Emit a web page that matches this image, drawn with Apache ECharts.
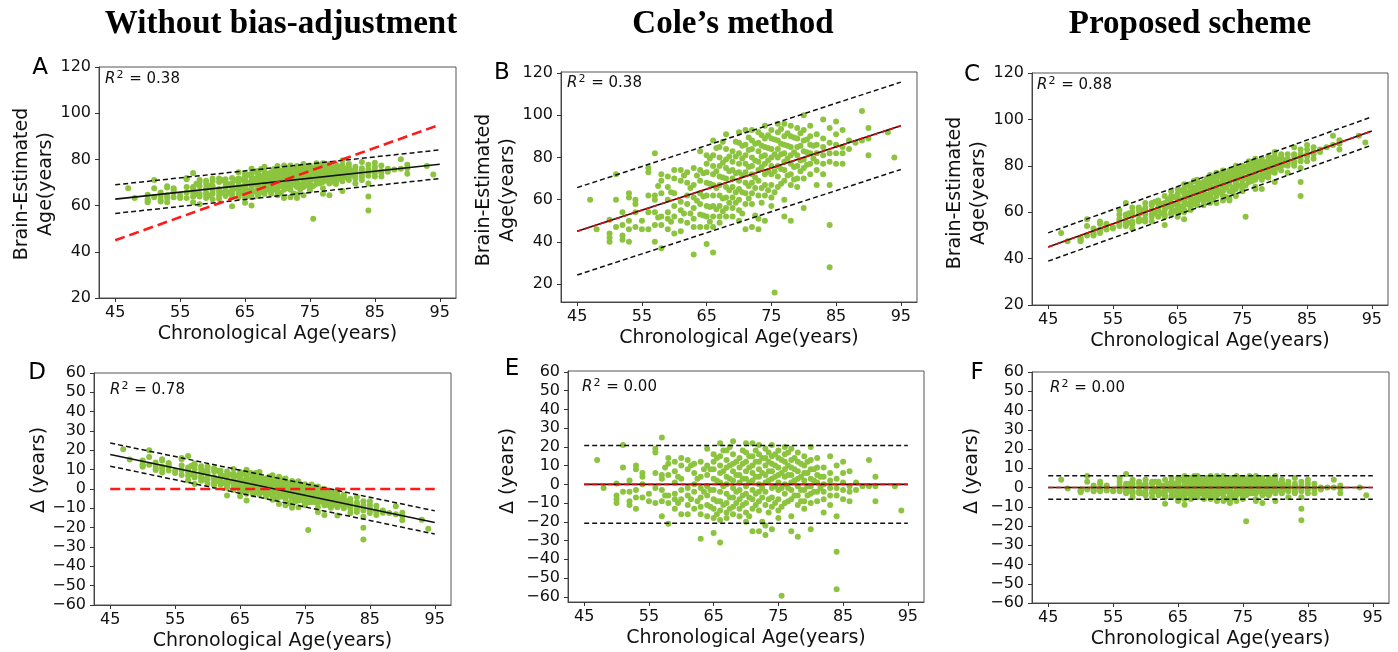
<!DOCTYPE html>
<html>
<head>
<meta charset="utf-8">
<script src="https://cdn.jsdelivr.net/npm/echarts@6/dist/echarts.min.js"></script>
<style>
html,body{margin:0;padding:0;background:#fff;}
#fig{width:1398px;height:652px;}
</style>
</head>
<body>
<div id="fig"></div>
<script>
// chronological age of each subject (years)
var chronAge = [
  47,
  48,
  50,50,50,50,
  51,51,51,
  52,52,52,52,
  53,53,53,53,53,
  54,54,54,54,
  55,55,
  56,56,56,56,56,
  57,57,57,57,57,57,
  58,58,58,58,58,58,
  59,59,59,59,59,59,
  60,60,60,60,60,60,
  61,61,61,61,61,61,
  62,62,62,62,62,
  63,63,63,63,63,63,63,
  64,64,64,64,64,64,64,
  65,65,65,65,65,65,65,65,65,
  66,66,66,66,66,66,66,66,66,66,
  67,67,67,67,67,67,67,67,67,
  68,68,68,68,68,68,68,68,68,
  69,69,69,69,69,69,69,69,
  70,70,70,70,70,70,70,70,70,70,
  71,71,71,71,71,71,71,71,71,
  72,72,72,72,72,72,72,72,72,72,
  73,73,73,73,73,73,73,73,73,
  74,74,74,74,74,74,74,74,74,
  75,75,75,75,75,75,75,75,75,
  75.5,
  76,76,76,76,76,76,76,76,
  77,77,77,77,77,77,77,77,77,
  78,78,78,78,78,78,78,78,
  79,79,79,79,79,79,79,
  80,80,80,80,80,80,80,80,
  81,81,81,81,81,81,
  82,82,82,82,82,82,
  83,83,83,83,83,83,
  84,84,84,84,84,84,84,
  85,85,85,85,85,
  86,86,86,86,
  87,87,
  88,
  89,89,
  90,90,90,
  93,
  94,
  57.5,57.5,
  59.5,59.5,
  61.5,61.5,
  62.5,62.5,
  63.5,63.5,
  64.5,64.5,64.5,
  65.5,65.5,65.5,65.5,
  66.5,66.5,66.5,66.5,
  67.5,67.5,67.5,67.5,67.5,
  68.5,68.5,68.5,68.5,
  69.5,69.5,69.5,69.5,69.5,
  70.5,70.5,70.5,70.5,70.5,
  71.5,71.5,71.5,71.5,71.5,
  72.5,72.5,72.5,72.5,72.5,
  73.5,73.5,73.5,73.5,73.5,73.5,
  74.5,74.5,74.5,74.5,74.5,
  75.5,75.5,75.5,75.5,
  76.5,76.5,76.5,76.5,76.5,
  77.5,77.5,77.5,77.5,
  78.5,78.5,78.5,78.5,
  79.5,79.5,79.5,79.5,
  80.5,80.5,80.5,
  81.5,81.5
];

// brain age gap without bias adjustment (panel D)
var deltaRaw = [
  20.5,
  15.3,
  14.7,12.7,12.1,11.5,
  20.1,16.5,12.6,
  13.7,11.9,10.4,9.8,
  15.4,14.8,11.5,10.3,8.5,
  13.5,12.9,11.7,9.6,
  9.5,8.3,
  16.0,15.4,12.1,9.7,7.3,
  17.1,11.1,10.5,8.7,6.9,4.5,
  13.1,12.2,10.4,7.1,5.9,2.6,
  11.8,10.3,8.5,6.7,5.8,4.3,
  11.7,10.5,8.4,6.6,5.1,2.7,
  10.7,9.2,6.2,5.0,3.5,2.0,
  9.4,7.9,6.1,4.9,2.2,
  9.0,6.6,4.8,3.3,1.8,-3.3,0.6,
  10.4,7.7,6.2,4.4,2.9,1.4,-0.4,
  8.8,7.6,6.4,4.9,3.1,1.6,0.1,-1.4,-3.8,
  9.9,7.8,6.3,5.1,3.6,2.1,0.6,-0.9,-6.0,-2.4,
  8.0,6.5,5.3,3.8,2.6,1.1,-0.4,-1.9,-2.8,
  8.8,6.7,5.2,4.0,2.5,1.3,-0.2,-1.7,-2.9,
  5.4,3.9,2.7,1.5,0.3,-1.2,-2.7,-3.9,
  7.1,5.6,4.1,2.6,1.4,0.2,-1.0,-2.5,-4.0,-5.5,
  6.4,4.3,2.8,1.6,0.4,-1.1,-2.6,-4.1,-7.7,
  5.4,3.9,2.7,1.5,0.3,-0.9,-2.1,-3.6,-5.1,-8.4,
  4.1,2.6,1.4,-0.1,-1.3,-2.8,-4.9,-8.2,-9.7,
  4.0,2.2,1.0,-0.2,-1.4,-2.9,-4.4,-5.9,-9.5,
  2.4,1.2,-0.3,-1.5,-2.7,-3.9,-5.4,-7.2,-8.4,
  -21.2,
  2.3,1.1,-0.1,-1.3,-2.5,-3.7,-5.2,-6.7,
  1.3,-0.5,-1.7,-2.9,-4.1,-5.3,-6.8,-9.5,-11.9,
  0.0,-1.5,-3.0,-4.2,-5.4,-6.9,-8.4,-13.5,
  -1.3,-2.8,-4.0,-5.2,-6.7,-8.5,-9.7,
  -0.5,-2.6,-4.1,-5.6,-6.8,-8.0,-9.5,-13.7,
  -3.0,-4.5,-5.7,-6.9,-8.4,-9.9,
  -5.2,-6.7,-7.9,-9.1,-10.3,-12.4,
  -4.1,-6.8,-8.0,-9.2,-10.4,-11.9,
  -6.3,-8.4,-9.9,-11.1,-14.4,-20.1,-26.1,
  -6.4,-8.2,-9.7,-10.9,-12.4,
  -8.6,-11.0,-11.9,-13.4,
  -11.1,-12.3,
  -12.4,
  -8.9,-13.1,
  -12.3,-13.8,-16.2,
  -15.9,
  -20.5,
  12.0,7.5,
  9.1,4.9,
  9.5,4.1,
  6.7,3.1,
  7.5,3.9,
  6.8,3.5,0.8,
  7.9,4.3,1.0,-1.2,
  8.4,5.1,2.7,-0.4,
  8.3,5.3,3.2,0.2,-1.7,
  5.2,3.1,0.4,-1.5,
  6.3,4.2,1.8,-1.0,-2.5,
  4.7,2.9,0.5,-2.0,-5.0,
  4.9,3.1,0.7,-2.1,-3.9,
  3.0,0.6,-1.9,-3.4,-7.3,
  3.2,1.7,0.2,-1.4,-4.4,-6.5,
  2.2,0.4,-1.5,-3.0,-5.7,
  0.6,-1.6,-4.0,-7.0,
  1.1,-1.1,-2.6,-4.7,-6.8,
  -0.6,-2.4,-4.2,-6.6,
  -2.2,-4.3,-6.4,-8.2,
  -2.6,-4.4,-6.5,-8.0,
  -4.5,-6.3,-8.1,
  -6.4,-8.2
];

// brain age gap after Cole's correction (panel E)
var deltaCole = [
  13,
  -2,
  0.5,-6,-8,-10,
  21,9,-4,
  2,-4,-9,-11,
  10,8,-3,-7,-13,
  6,4,0,-7,
  -5,-9,
  19,17,6,-2,-10,
  25,5,3,-3,-9,-17,
  14,11,5,-6,-10,-21,
  12,7,1,-5,-8,-13,
  14,10,3,-3,-8,-16,
  13,8,-2,-6,-11,-16,
  11,6,0,-4,-13,
  12,4,-2,-7,-12,-29,-16,
  19,10,5,-1,-6,-11,-17,
  16,12,8,3,-3,-8,-13,-18,-26,
  22,15,10,6,1,-4,-9,-14,-31,-19,
  18,13,9,4,0,-5,-10,-15,-18,
  23,16,11,7,2,-2,-7,-12,-16,
  14,9,5,1,-3,-8,-13,-17,
  22,17,12,7,3,-1,-5,-10,-15,-20,
  22,15,10,6,2,-3,-8,-13,-25,
  21,16,12,8,4,0,-4,-9,-14,-25,
  19,14,10,5,1,-4,-11,-22,-27,
  21,15,11,7,3,-2,-7,-12,-24,
  18,14,9,5,1,-3,-8,-14,-18,
  -59.5,
  20,16,12,8,4,0,-5,-10,
  19,13,9,5,1,-3,-8,-17,-25,
  17,12,7,3,-1,-6,-11,-28,
  15,10,6,2,-3,-9,-13,
  20,13,8,3,-1,-5,-10,-24,
  14,9,5,1,-4,-9,
  9,4,0,-4,-8,-15,
  15,6,2,-2,-6,-11,
  10,3,-2,-6,-17,-36,-56,
  12,6,1,-3,-8,
  7,-1,-4,-9,
  1,-3,
  -1,
  13,-1,
  4,-1,-9,
  -1,
  -14,
  9,-6,
  4,-10,
  10,-8,
  3,-9,
  8,-4,
  8,-3,-12,
  14,2,-9,-16,
  18,7,-1,-11,
  20,10,3,-7,-13,
  12,5,-4,-10,
  18,11,3,-6,-11,
  15,9,1,-7,-17,
  18,12,4,-5,-11,
  14,6,-2,-7,-20,
  17,12,7,2,-8,-15,
  16,10,4,-1,-10,
  13,6,-2,-12,
  17,10,5,-2,-9,
  14,8,2,-6,
  11,4,-3,-9,
  12,6,-1,-6,
  8,2,-4,
  4,-2
];

// brain age gap with the proposed scheme (panel F)
var deltaProp = [
  4,
  -0.5,
  -1,-2,-1.5,-2.5,
  6,3,-1,
  1,-1,-2,-1.5,
  3,2,-0.5,-1,-2,
  1,0.5,-1,-1.5,
  -1.5,-2,
  5,3,1,-1,-2,
  7,2,1,-1,-2,-3,
  4,2,0.5,-2,-3,-5,
  3,2,0,-2,-2.5,-3,
  4,2,1,-1,-3,-4,
  3,2,0,-2,-3,-5,
  3,2,0,-1,-4,
  4,1,-1,-2,-4,-8.5,-5,
  5,3,2,0,-2,-4,-5,
  5,3,2,1,-1,-3,-4,-6,-7,
  6,4,3,2,0,-1,-3,-5,-9,-6,
  5,4,3,1,0,-2,-3,-5,-6,
  6,5,3,2,1,-1,-2,-4,-5,
  4,3,1,0,-1,-3,-4,-6,
  6,5,4,2,1,0,-2,-3,-5,-6,
  6,4,3,2,1,-1,-3,-4,-7,
  6,5,4,2,1,0,-1,-3,-5,-7,
  5,4,3,1,0,-1,-4,-7,-8,
  6,5,3,2,1,-1,-2,-4,-7,
  5,4,3,2,0,-1,-3,-5,-6,
  -17.5,
  6,5,4,2,1,0,-2,-3,
  6,4,3,2,0,-1,-3,-6,-7,
  5,4,2,1,0,-2,-4,-8,
  5,3,2,1,-1,-3,-4,
  6,4,2,1,0,-2,-3,-7,
  4,3,2,0,-1,-3,
  3,1,0,-1,-2,-5,
  5,2,1,-1,-2,-3,
  3,1,-1,-2,-5,-11,-17,
  4,2,0,-1,-3,
  2,0,-1,-3,
  0,-1,
  0,
  4,0,
  1,-0.5,-3,
  0,
  -4,
  2,-2,
  1,-3,
  3,-2,
  1,-3,
  2,-1,
  2,-1,-4,
  4,0,-3,-5,
  5,2,0,-3,
  6,3,1,-2,-4,
  4,2,-1,-3,
  5,3,1,-2,-4,
  5,3,0,-2,-5,
  5,4,1,-2,-3,
  4,2,-1,-2,-6,
  5,4,2,1,-3,-5,
  5,3,1,0,-3,
  4,2,-1,-4,
  5,3,2,-1,-3,
  4,2,1,-2,
  3,1,-1,-3,
  4,2,0,-2,
  2,1,-1,
  1,-1
];

// fitted lines and bands, values at age 45 and 95
var lineX = [45, 95];
var fitRaw = [62.8, 77.9];
var bandRawHi = [69.0, 84.1];
var bandRawLo = [56.6, 71.7];
var identity = [45, 95];
var bandColeHi = [65.7, 115.7];
var bandColeLo = [24.3, 74.3];
var bandPropHi = [51.1, 101.1];
var bandPropLo = [38.9, 88.9];
var fitDeltaRaw = [17.8, -17.3];
var bandDeltaRawHi = [23.8, -11.3];
var bandDeltaRawLo = [11.8, -23.3];
var zeroLine = [0, 0];
var bandDeltaColeHi = [20.7, 20.7];
var bandDeltaColeLo = [-20.7, -20.7];
var bandDeltaPropHi = [6.1, 6.1];
var bandDeltaPropLo = [-6.1, -6.1];

var xTicks = [45, 55, 65, 75, 85, 95];
var yTicksAge = [20, 40, 60, 80, 100, 120];
var yTicksDelta = [-60, -50, -40, -30, -20, -10, 0, 10, 20, 30, 40, 50, 60];

var panelLetters = ['A', 'B', 'C', 'D', 'E', 'F'];
var r2Labels = ['0.38', '0.38', '0.88', '0.78', '0.00', '0.00'];
var columnTitles = ['Without bias-adjustment', 'Cole\u2019s method', 'Proposed scheme'];

var sans = '"DejaVu Sans", sans-serif';
var dotColor = '#8cc43f';

var grids = [
  {left: 99, top: 67, width: 357, height: 231},
  {left: 561, top: 72, width: 356, height: 230},
  {left: 1032, top: 73, width: 356, height: 232},
  {left: 94, top: 373, width: 357, height: 232},
  {left: 568, top: 371, width: 356, height: 231},
  {left: 1032, top: 372, width: 357, height: 231}
];
var yLims = [[20, 120], [11.5, 120.5], [20, 120], [-60, 60], [-62.8, 60.5], [-60, 60]];

function pairs(ys) { return chronAge.map(function (a, i) { return [a, +(a + ys[i]).toFixed(2)]; }); }
function gaps(ys) { return chronAge.map(function (a, i) { return [a, ys[i]]; }); }

var pointSets = [pairs(deltaRaw), pairs(deltaCole), pairs(deltaProp), gaps(deltaRaw), gaps(deltaCole), gaps(deltaProp)];

var blackDash = {color: '#111', width: 1.5, type: [5, 3]};
var blackSolid = {color: '#111', width: 1.6};
var redBold = {color: '#ff1a1a', width: 2.6, type: [10, 5]};
var redThin = {color: '#d81010', width: 1.7, type: [5, 3]};

var series = [];
function addLine(i, ys, style) {
  series.push({
    type: 'line', xAxisIndex: i, yAxisIndex: i, silent: true, z: 3,
    symbol: 'none', data: lineX.map(function (x, k) { return [x, ys[k]]; }),
    lineStyle: style
  });
}
pointSets.forEach(function (pts, i) {
  series.push({
    type: 'scatter', xAxisIndex: i, yAxisIndex: i, silent: true, z: 2,
    symbolSize: 6, data: pts, itemStyle: {color: dotColor, opacity: 1}
  });
});
addLine(0, bandRawHi, blackDash); addLine(0, bandRawLo, blackDash);
addLine(0, fitRaw, blackSolid); addLine(0, identity, redBold);
addLine(1, bandColeHi, blackDash); addLine(1, bandColeLo, blackDash);
addLine(1, identity, blackSolid); addLine(1, identity, redThin);
addLine(2, bandPropHi, blackDash); addLine(2, bandPropLo, blackDash);
addLine(2, identity, blackSolid); addLine(2, identity, redThin);
addLine(3, bandDeltaRawHi, blackDash); addLine(3, bandDeltaRawLo, blackDash);
addLine(3, fitDeltaRaw, blackSolid); addLine(3, zeroLine, redBold);
addLine(4, bandDeltaColeHi, blackDash); addLine(4, bandDeltaColeLo, blackDash);
addLine(4, zeroLine, blackSolid); addLine(4, zeroLine, redThin);
addLine(5, bandDeltaPropHi, blackDash); addLine(5, bandDeltaPropLo, blackDash);
addLine(5, zeroLine, blackSolid); addLine(5, zeroLine, redThin);

var minus = function (v) { return String(v).replace('-', '\u2212'); };

var xAxes = grids.map(function (g, i) {
  return {
    gridIndex: i, type: 'value', min: 42.5, max: 97.5,
    name: 'Chronological Age(years)', nameLocation: 'middle', nameGap: 27,
    nameTextStyle: {fontSize: 19, fontFamily: sans, color: '#111'},
    axisLine: {show: true, onZero: false, lineStyle: {color: '#444'}},
    axisTick: {show: true, length: 4, customValues: xTicks, lineStyle: {color: '#333'}},
    axisLabel: {customValues: xTicks, fontSize: 16, fontFamily: sans, color: '#111', margin: 7},
    splitLine: {show: false}
  };
});
var yAxes = grids.map(function (g, i) {
  var ticks = i < 3 ? yTicksAge : yTicksDelta;
  return {
    gridIndex: i, type: 'value', min: yLims[i][0], max: yLims[i][1],
    axisLine: {show: true, onZero: false, lineStyle: {color: '#444'}},
    axisTick: {show: true, length: 4, customValues: ticks, lineStyle: {color: '#333'}},
    axisLabel: {customValues: ticks, fontSize: 16, fontFamily: sans, color: '#111', margin: 8, formatter: minus},
    splitLine: {show: false}
  };
});

var gridOpts = grids.map(function (g) {
  return {left: g.left, top: g.top, width: g.width, height: g.height, show: true, borderColor: '#555', borderWidth: 1};
});

var graphics = [];
var titleX = [281, 733, 1190];
columnTitles.forEach(function (t, i) {
  graphics.push({type: 'text', x: titleX[i], y: 24, style: {text: t, font: 'bold 33px "Liberation Serif", "Times New Roman", serif', fill: '#000', align: 'center', verticalAlign: 'middle'}});
});
var letterPos = [[40, 68], [502, 73], [972, 75], [37, 373], [512, 369], [977, 373]];
var r2Pos = [[105, 79], [567, 83], [1037, 85], [110, 390], [582, 387], [1050, 388]];
var yNamePos = [[34, 184], [496, 190], [967, 193], [39, 470], [508, 471], [972, 471]];
panelLetters.forEach(function (l, i) {
  graphics.push({type: 'text', x: letterPos[i][0], y: letterPos[i][1], style: {text: l, font: '23px "DejaVu Sans"', fill: '#000', align: 'center', verticalAlign: 'middle'}});
  graphics.push({type: 'text', x: r2Pos[i][0], y: r2Pos[i][1], style: {
    text: '{r|R}{s|2}{t| = ' + r2Labels[i] + '}', align: 'left', verticalAlign: 'middle',
    rich: {
      r: {fontStyle: 'italic', fontSize: 15, fontFamily: sans, fill: '#111'},
      s: {fontSize: 11, fontFamily: sans, fill: '#111', padding: [0, 1, 8, 1]},
      t: {fontSize: 15, fontFamily: sans, fill: '#111'}
    }
  }});
  graphics.push({type: 'text', x: yNamePos[i][0], y: yNamePos[i][1], rotation: Math.PI / 2, style: {
    text: i < 3 ? 'Brain-Estimated\nAge(years)' : '\u0394 (years)',
    font: '19px "DejaVu Sans"', lineHeight: 24, fill: '#111', align: 'center', verticalAlign: 'middle'
  }});
});

var chart = echarts.init(document.getElementById('fig'), null, {renderer: 'canvas'});
chart.setOption({
  animation: false,
  backgroundColor: '#fff',
  grid: gridOpts,
  xAxis: xAxes,
  yAxis: yAxes,
  series: series,
  graphic: graphics
});
</script>
</body>
</html>
